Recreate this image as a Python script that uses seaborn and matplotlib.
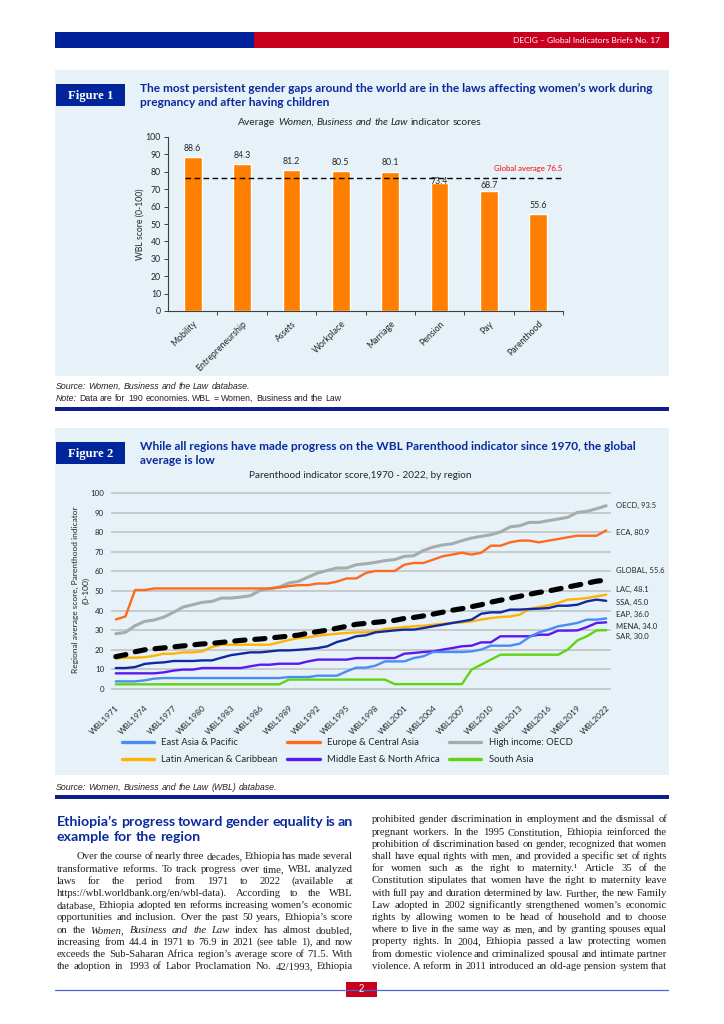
import matplotlib
matplotlib.use("Agg")
import matplotlib.pyplot as plt
from matplotlib.lines import Line2D
from matplotlib.patches import Rectangle
import numpy as np
import seaborn as sns

W, H = 724, 1024

# ---- Figure 1 data -------------------------------------------------------
categories = ["Mobility", "Entrepreneurship", "Assets", "Workplace",
              "Marriage", "Pension", "Pay", "Parenthood"]
scores = [88.6, 84.3, 81.2, 80.5, 80.1, 73.4, 68.7, 55.6]
global_average = 76.5
# vertical gap (in score units) between a bar top and its label centre
label_gap = [5.0, 5.0, 5.0, 5.0, 5.0, 1.0, 3.2, 5.0]

# ---- Figure 2 data (1971 .. 2022) ----------------------------------------
years = list(range(1971, 2023))
oecd = [28.2, 28.9, 32.3, 34.5, 35.2, 36.7, 39.1, 41.8, 43.0, 44.2,
        44.7, 46.4, 46.4, 46.9, 47.6, 50.3, 51.2, 52.0, 54.1, 54.9,
        57.1, 59.2, 60.5, 61.7, 61.7, 63.4, 63.9, 64.6, 65.5, 66.0,
        67.7, 68.0, 70.7, 72.4, 73.5, 74.1, 75.7, 77.0, 77.9, 78.7,
        80.1, 82.7, 83.3, 85.0, 85.0, 85.9, 86.7, 87.6, 90.1, 90.6,
        92.0, 93.5]
eca = [35.5, 37.0, 50.5, 50.5, 51.3, 51.3, 51.3, 51.3, 51.3, 51.3,
       51.3, 51.3, 51.3, 51.3, 51.3, 51.3, 51.3, 51.8, 52.5, 53.0,
       53.0, 53.8, 53.8, 54.8, 56.4, 56.4, 59.2, 60.2, 60.2, 60.2,
       63.4, 64.3, 64.3, 66.0, 67.7, 68.6, 69.5, 68.6, 69.5, 73.1,
       73.1, 74.8, 75.7, 75.7, 74.8, 75.7, 76.5, 77.4, 78.2, 78.2,
       78.2, 80.9]
global_avg = [16.5, 17.5, 19.0, 20.0, 20.5, 21.0, 21.5, 22.0, 22.5, 23.0,
              23.3, 23.8, 24.3, 24.8, 25.2, 25.5, 26.0, 26.5, 27.0, 27.5,
              28.5, 29.3, 30.0, 31.0, 32.0, 33.0, 33.5, 34.0, 34.5, 35.0,
              36.0, 36.5, 37.3, 38.2, 39.2, 40.2, 41.0, 42.0, 43.0, 44.3,
              45.3, 46.3, 47.3, 48.3, 49.3, 50.0, 51.0, 52.0, 53.0, 54.0,
              55.0, 55.6]
lac = [15.5, 16.0, 16.0, 16.2, 17.0, 18.0, 18.0, 18.7, 18.7, 19.2,
       21.5, 22.6, 22.6, 22.6, 22.6, 22.6, 22.6, 23.8, 25.0, 26.0,
       26.4, 27.2, 27.7, 28.2, 28.6, 28.9, 28.9, 29.4, 30.6, 31.1,
       31.6, 32.0, 32.3, 32.8, 33.3, 33.7, 34.0, 34.5, 35.4, 36.2,
       36.7, 37.0, 37.9, 40.8, 41.8, 42.7, 43.9, 45.6, 45.9, 46.4,
       47.3, 48.1]
ssa = [10.7, 10.7, 11.2, 12.8, 13.3, 13.6, 14.3, 14.3, 14.3, 14.6,
       14.6, 16.0, 17.3, 18.0, 18.7, 18.7, 19.2, 19.7, 19.7, 20.0,
       20.4, 20.9, 21.8, 24.0, 25.2, 26.9, 27.4, 28.9, 29.4, 29.9,
       30.3, 30.3, 31.1, 32.0, 32.8, 33.7, 34.5, 35.4, 38.4, 39.1,
       39.1, 40.5, 40.5, 40.8, 41.0, 41.3, 42.5, 42.5, 43.0, 44.7,
       45.6, 45.0]
mena = [8.0, 8.0, 8.0, 8.0, 8.0, 8.5, 9.4, 9.9, 9.9, 10.7,
        10.7, 10.7, 10.7, 10.7, 11.6, 12.4, 12.4, 12.9, 12.9, 12.9,
        14.1, 15.0, 15.0, 15.0, 15.0, 15.8, 15.8, 15.8, 15.8, 15.8,
        18.0, 18.4, 18.9, 19.2, 20.1, 20.9, 21.8, 22.1, 23.8, 23.8,
        26.9, 26.9, 26.9, 26.9, 27.7, 27.7, 29.8, 29.8, 29.9, 31.6,
        33.7, 34.0]
eap = [3.9, 3.9, 3.9, 4.4, 5.3, 5.6, 5.6, 5.6, 5.6, 5.6,
       5.6, 5.6, 5.6, 5.6, 5.6, 5.6, 5.6, 5.6, 6.1, 6.1,
       6.1, 6.8, 6.8, 6.8, 9.0, 10.9, 10.9, 11.9, 14.1, 14.1,
       14.1, 15.8, 16.7, 18.9, 18.9, 18.9, 18.9, 19.2, 20.1, 22.1,
       22.1, 22.1, 23.1, 26.5, 28.9, 30.3, 32.0, 32.8, 33.7, 35.4,
       35.4, 36.0]
sar = [2.4, 2.4, 2.4, 2.4, 2.4, 2.4, 2.4, 2.4, 2.4, 2.4,
       2.4, 2.4, 2.4, 2.4, 2.4, 2.4, 2.4, 2.4, 4.8, 4.8,
       4.8, 4.8, 4.8, 4.8, 4.8, 4.8, 4.8, 4.8, 4.8, 2.5,
       2.5, 2.5, 2.5, 2.5, 2.5, 2.5, 2.5, 9.9, 12.4, 15.0,
       17.5, 17.5, 17.5, 17.5, 17.5, 17.5, 17.5, 20.1, 24.8, 26.9,
       29.9, 30.0]

end_labels = ["OECD, 93.5", "ECA, 80.9", "GLOBAL, 55.6", "LAC, 48.1",
              "SSA, 45.0", "EAP, 36.0", "MENA, 34.0", "SAR, 30.0"]
end_label_y = [93.4, 80.0, 60.7, 51.0, 44.4, 37.8, 32.1, 27.0]

# ---- body text ------------------------------------------------------------
left_lines = [
    "Over the course of nearly three decades, Ethiopia has made several",
    "transformative reforms. To track progress over time, WBL analyzed",
    "laws for the period from 1971 to 2022 (available at",
    "https://wbl.worldbank.org/en/wbl-data). According to the WBL",
    "database, Ethiopia adopted ten reforms increasing women\u2019s economic",
    "opportunities and inclusion. Over the past 50 years, Ethiopia\u2019s score",
    "on the *Women, Business and the Law* index has almost doubled,",
    "increasing from 44.4 in 1971 to 76.9 in 2021 (see table 1), and now",
    "exceeds the Sub-Saharan Africa region\u2019s average score of 71.5. With",
    "the adoption in 1993 of Labor Proclamation No. 42/1993, Ethiopia",
]
right_lines = [
    "prohibited gender discrimination in employment and the dismissal of",
    "pregnant workers. In the 1995 Constitution, Ethiopia reinforced the",
    "prohibition of discrimination based on gender, recognized that women",
    "shall have equal rights with men, and provided a specific set of rights",
    "for women such as the right to maternity.\u00b9 Article 35 of the",
    "Constitution stipulates that women have the right to maternity leave",
    "with full pay and duration determined by law. Further, the new Family",
    "Law adopted in 2002 significantly strengthened women\u2019s economic",
    "rights by allowing women to be head of household and to choose",
    "where to live in the same way as men, and by granting spouses equal",
    "property rights. In 2004, Ethiopia passed a law protecting women",
    "from domestic violence and criminalized spousal and intimate partner",
    "violence. A reform in 2011 introduced an old-age pension system that",
]

BLUE = "#0a2a9c"
PANEL = "#e6f1f8"


def fx(x):
    return x / W


def fy(y):
    return 1 - y / H


def rect(left, top, width, height):
    return [left / W, 1 - (top + height) / H, width / W, height / H]


def box(fig, left, top, width, height, color):
    fig.patches.append(Rectangle((fx(left), fy(top + height)), width / W, height / H,
                                 transform=fig.transFigure, color=color, lw=0, zorder=-10))


def place_words(fig, text, x0, y, x1=None, align="left", **kw):
    """Lay out a line word by word (allows *italic* runs and justification).
    y is the visual middle of the line in pixels from the top."""
    renderer = fig.canvas.get_renderer()
    em = kw.get("fontsize", 8) * 100 / 72
    base = round(y + 0.32 * em)
    items = []
    italic = False
    for raw in text.split(" "):
        start_it = raw.startswith("*")
        end_it = raw.endswith("*")
        word = raw.strip("*")
        if start_it:
            italic = True
        style = "italic" if italic else "normal"
        if end_it:
            italic = False
        items.append(fig.text(0, fy(base), word, va="baseline", ha="left", style=style, **kw))
    widths = [t.get_window_extent(renderer).width for t in items]
    probe = fig.text(0, 0, "a a", **kw)
    probe2 = fig.text(0, 0, "aa", **kw)
    space = probe.get_window_extent(renderer).width - probe2.get_window_extent(renderer).width
    probe.remove()
    probe2.remove()
    total = sum(widths) + space * (len(items) - 1)
    gap = space
    if align == "justify" and x1 is not None and len(items) > 1:
        gap = (x1 - x0 - sum(widths)) / (len(items) - 1)
        start = x0
    elif align == "center":
        start = x0 - total / 2
    elif align == "right":
        start = x0 - total
    else:
        start = x0
    x = start
    for t, w in zip(items, widths):
        t.set_x(fx(x))
        x += w + gap


sns.set_theme(style="white")
plt.rcParams["font.family"] = ["Lato", "DejaVu Sans"]

fig = plt.figure(figsize=(W / 100, H / 100), dpi=100)
fig.patch.set_facecolor("white")

# ---- header ----------------------------------------------------------------
box(fig, 55, 32, 199, 16, "#00229a")
box(fig, 254, 32, 415, 16, "#c8001e")
fig.text(fx(660), fy(40.5), "DECIG \u2013 Global Indicators Briefs No. 17", color="white",
         fontsize=6.0, ha="right", va="center")

# ---- figure 1 panel ------------------------------------------------------
box(fig, 55, 70, 614, 306, PANEL)
box(fig, 56, 84, 69, 22, "#00259a")
fig.text(fx(90.5), fy(95.5), "Figure 1", color="white", fontsize=9.2, weight="bold",
         family="Liberation Serif", ha="center", va="center")
fig.text(fx(140), fy(88), "The most persistent gender gaps around the world are in the laws affecting "
         "women\u2019s work during", color=BLUE, fontsize=8.6, weight="bold", va="center")
fig.text(fx(140), fy(102), "pregnancy and after having children", color=BLUE, fontsize=8.6,
         weight="bold", va="center")
place_words(fig, "Average *Women, Business and the Law* indicator scores", 360, 122,
            align="center", fontsize=7.4, color="#262626")

ax1 = fig.add_axes(rect(168, 137, 395, 174))
ax1.set_facecolor("none")
sns.barplot(x=categories, y=scores, color="#ff8000", saturation=1, width=0.36, ax=ax1)
ax1.set_xlim(-0.5, len(categories) - 0.5)
ax1.set_ylim(0, 100)
ax1.set_yticks(np.arange(0, 101, 10))
ax1.tick_params(axis="y", labelsize=6.3, length=3, width=0.7, color="#404040",
                labelcolor="#262626", pad=2, left=True)
ax1.tick_params(axis="x", length=0, labelsize=6.3, labelcolor="#262626", pad=6)
ax1.set_xticks(np.arange(len(categories)) + 0.5, minor=True)
ax1.tick_params(axis="x", which="minor", length=3, width=0.7, color="#404040", bottom=True)
for lab in ax1.get_xticklabels():
    lab.set_rotation(45)
    lab.set_ha("right")
    lab.set_rotation_mode("anchor")
for side in ["top", "right"]:
    ax1.spines[side].set_visible(False)
for side in ["left", "bottom"]:
    ax1.spines[side].set_color("#404040")
    ax1.spines[side].set_linewidth(0.8)
for i, (v, g) in enumerate(zip(scores, label_gap)):
    ax1.text(i, v + g, f"{v}", ha="center", va="center", fontsize=6.3, color="#262626")
ax1.axhline(global_average, xmin=0.042, xmax=1, color="black", lw=1.0, ls=(0, (4, 2.5)))
ax1.text(len(categories) - 0.52, global_average + 3.5, f"Global average {global_average}",
         color="#ff0000", fontsize=5.6, ha="right", va="bottom")
ax1.set_ylabel("")
fig.text(fx(140), fy(224), "WBL score (0-100)", rotation=90, fontsize=6.2, color="#262626",
         ha="center", va="center")

place_words(fig, "*Source: Women, Business and the Law database.*", 56, 386.5,
            fontsize=6.3, family="Liberation Sans", color="#222222")
place_words(fig, "*Note:* Data are for 190 economies. WBL = Women, Business and the Law", 56, 398,
            fontsize=6.3, family="Liberation Sans", color="#222222")
box(fig, 55, 407, 614, 4, "#0d1f8c")

# ---- figure 2 panel ------------------------------------------------------
box(fig, 55, 428, 614, 347, PANEL)
box(fig, 56, 442, 69, 22, "#00259a")
fig.text(fx(90.5), fy(453.5), "Figure 2", color="white", fontsize=9.2, weight="bold",
         family="Liberation Serif", ha="center", va="center")
fig.text(fx(140), fy(446), "While all regions have made progress on the WBL Parenthood indicator "
         "since 1970, the global", color=BLUE, fontsize=8.6, weight="bold", va="center")
fig.text(fx(140), fy(460), "average is low", color=BLUE, fontsize=8.6, weight="bold", va="center")
fig.text(fx(360), fy(475.5), "Parenthood indicator score,1970 - 2022, by region", fontsize=7.2,
         color="#262626", ha="center", va="center")

ax2 = fig.add_axes(rect(111, 492, 500, 198))
ax2.set_facecolor("none")
idx = np.arange(len(years))
series = [
    (oecd, "#a6acaa", 2.2, "High income: OECD"),
    (eca, "#ff6a1a", 1.7, "Europe & Central Asia"),
    (lac, "#ffb300", 1.7, "Latin American & Caribbean"),
    (ssa, "#0f2a9e", 1.7, None),
    (mena, "#5a18f2", 1.7, "Middle East & North Africa"),
    (eap, "#4a8cf6", 1.7, "East Asia & Pacific"),
    (sar, "#5fd512", 1.7, "South Asia"),
]
for vals, color, lw, _ in series:
    sns.lineplot(x=idx, y=vals, color=color, lw=lw, ax=ax2)
sns.lineplot(x=idx, y=global_avg, color="black", lw=3.7, ax=ax2,
             linestyle=(0, (2.0, 1.9)), dash_capstyle="round")
ax2.set_xlim(-0.5, len(years) - 0.5)
ax2.set_ylim(-0.5, 100.5)
ax2.set_yticks(np.arange(0, 101, 10))
ax2.yaxis.grid(True, color="#bfbfbf", lw=1.1)
ax2.set_axisbelow(True)
for side in ax2.spines:
    ax2.spines[side].set_visible(False)
ax2.set_xticks(idx[::3])
ax2.set_xticklabels([f"WBL{y}" for y in years[::3]], rotation=45, ha="right",
                    rotation_mode="anchor")
ax2.tick_params(axis="x", length=0, labelsize=6.0, labelcolor="#262626", pad=10)
ax2.tick_params(axis="y", length=0, labelsize=5.7, labelcolor="#262626", pad=5)
for lab, yv in zip(end_labels, end_label_y):
    ax2.text(len(years) + 0.05, yv, lab, fontsize=5.5, color="#262626", va="center",
             ha="left", clip_on=False)
fig.text(fx(81), fy(590), "Regional average score, Parenthood indicator\n(0-100)", rotation=90,
         fontsize=6.0, color="#262626", ha="center", va="center", multialignment="center",
         linespacing=1.55)

order = ["East Asia & Pacific", "Europe & Central Asia", "High income: OECD",
         "Latin American & Caribbean", "Middle East & North Africa", "South Asia"]
color_of = {name: color for _, color, _, name in series if name}
handles = [Line2D([0], [0], color=color_of[n], lw=2.4) for n in order]
# legend is filled column-wise, so interleave the two rows
col_order = [0, 3, 1, 4, 2, 5]
fig.legend([handles[i] for i in col_order], [order[i] for i in col_order], ncol=3,
           loc="upper left", bbox_to_anchor=(fx(122), fy(738)), frameon=False,
           fontsize=6.8, handlelength=3.4, handletextpad=0.75, columnspacing=1.05,
           labelspacing=0.85, borderpad=0, borderaxespad=0, labelcolor="#262626")

place_words(fig, "*Source: Women, Business and the Law (WBL) database.*", 56, 787,
            fontsize=6.3, family="Liberation Sans", color="#222222")
box(fig, 55, 795, 614, 4, "#0d1f8c")

# ---- body text -----------------------------------------------------------
head_kw = dict(fontsize=10.2, weight="bold", color=BLUE, family="Lato")
place_words(fig, "Ethiopia\u2019s progress toward gender equality is an", 57, 821, 353,
            align="justify", **head_kw)
place_words(fig, "example for the region", 57, 836, **head_kw)

body_kw = dict(fontsize=7.7, family="Liberation Serif", color="#231f20")
for k, line in enumerate(left_lines):
    x0 = 77 if k == 0 else 57
    place_words(fig, line, x0, 856 + 12.2 * k, 353, align="justify", **body_kw)
for k, line in enumerate(right_lines):
    place_words(fig, line, 372, 819 + 12.2 * k, 667, align="justify", **body_kw)

# ---- footer ---------------------------------------------------------------
fig.add_artist(Line2D([fx(55), fx(668)], [fy(989.5), fy(989.5)], color="#4a63d0", lw=0.9,
                      transform=fig.transFigure))
box(fig, 346, 982, 31, 15, "#c8001e")
fig.text(fx(361.5), fy(989.5), "2", color="white", fontsize=7, ha="center", va="center",
         family="Liberation Sans")

fig.savefig("out.png", dpi=100)
